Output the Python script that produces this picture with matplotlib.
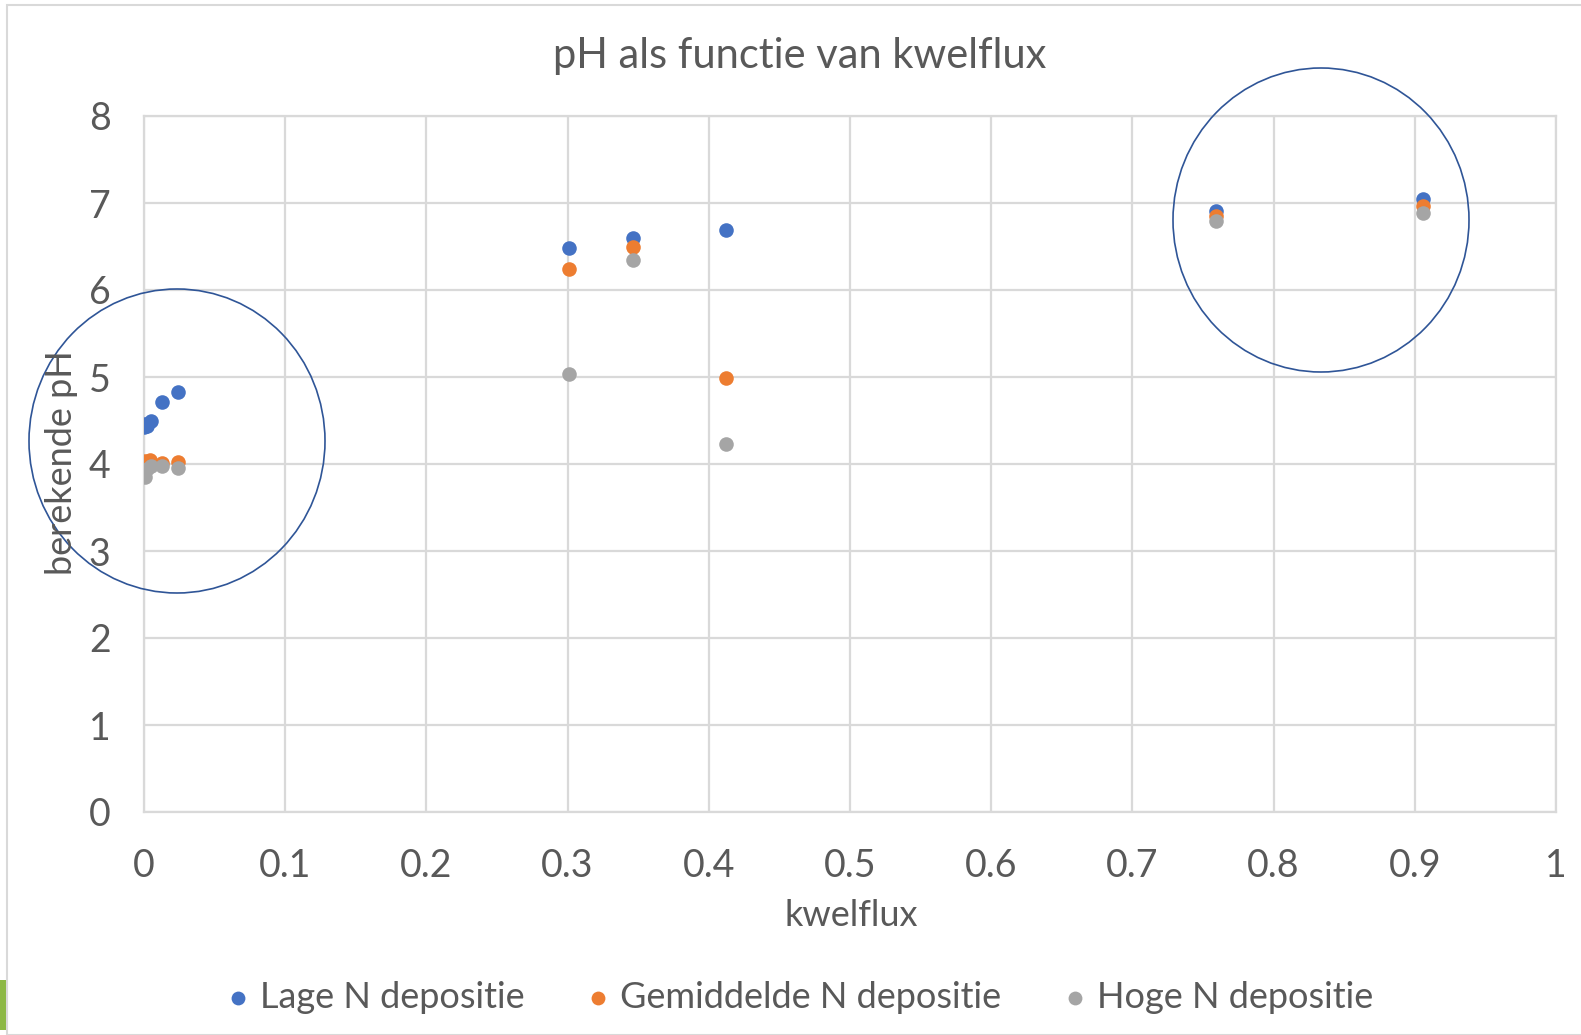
import matplotlib.pyplot as plt
from matplotlib.patches import Ellipse, Rectangle

# kwelflux waarden en berekende pH per scenario
lage_x = [0.0, 0.001, 0.002, 0.005, 0.013, 0.024, 0.301, 0.346, 0.412, 0.759, 0.906]
lage_y = [4.42, 4.46, 4.44, 4.50, 4.71, 4.83, 6.48, 6.60, 6.69, 6.91, 7.05]

gem_x = [0.0, 0.001, 0.004, 0.013, 0.024, 0.301, 0.346, 0.412, 0.759, 0.906]
gem_y = [4.02, 4.03, 4.05, 4.01, 4.02, 6.24, 6.49, 4.99, 6.85, 6.97]

hoog_x = [0.001, 0.0, 0.002, 0.005, 0.013, 0.024, 0.301, 0.346, 0.412, 0.759, 0.906]
hoog_y = [3.85, 3.91, 3.94, 3.98, 3.98, 3.95, 5.04, 6.35, 4.23, 6.79, 6.88]

labels = ["Lage N depositie", "Gemiddelde N depositie", "Hoge N depositie"]
colors = ["#4472C4", "#ED7D31", "#A5A5A5"]

plt.rcParams['font.family'] = ['Lato', 'DejaVu Sans']
txt = '#595959'
gridc = '#D9D9D9'

W, H = 1581, 1035
fig = plt.figure(figsize=(W/100, H/100), dpi=100)
ax = fig.add_axes([144/W, 1-812/H, (1556-144)/W, (812-116)/H])

ax.scatter(lage_x, lage_y, s=110, color=colors[0], label=labels[0], zorder=3, linewidths=0)
ax.scatter(gem_x, gem_y, s=110, color=colors[1], label=labels[1], zorder=3, linewidths=0)
ax.scatter(hoog_x, hoog_y, s=110, color=colors[2], label=labels[2], zorder=3, linewidths=0)

ax.set_xlim(0, 1)
ax.set_ylim(0, 8)
ax.set_xticks([i/10 for i in range(11)])
ax.set_xticklabels(['0', '0.1', '0.2', '0.3', '0.4', '0.5', '0.6', '0.7', '0.8', '0.9', '1'])
ax.set_yticks(range(9))
ax.grid(True, color=gridc, linewidth=1.6)
ax.set_axisbelow(True)
for s in ax.spines.values():
    s.set_color(gridc)
    s.set_linewidth(1.6)
ax.tick_params(length=0, labelsize=27, colors=txt)
ax.tick_params(axis='x', pad=26)
ax.tick_params(axis='y', pad=24)

fig.text(800/W, 1-56/H, "pH als functie van kwelflux", fontsize=30, color=txt,
         ha='center', va='center')
fig.text(851/W, 1-915/H, "kwelflux", fontsize=26, color=txt, ha='center', va='center')
fig.text(62/W, 1-463/H, "berekende pH", rotation=90, fontsize=26, color=txt,
         ha='center', va='center')

handles, labs = ax.get_legend_handles_labels()
fig.legend(handles, labs, loc='center', bbox_to_anchor=(800/W, 1-997/H), ncol=3,
           frameon=False, fontsize=26, labelcolor=txt, handlelength=0.6,
           handletextpad=0.3, columnspacing=1.75, markerscale=0.95)

# cirkels rond de clusters (in pixels van de figuur)
for cx, cy in [(177, 441), (1321, 220)]:
    e = Ellipse((cx/W, 1-cy/H), 296/W, 304/H, transform=fig.transFigure,
                fill=False, edgecolor='#2F5597', linewidth=1.2)
    fig.add_artist(e)

# kader van de grafiek
fig.add_artist(Rectangle((7/W, 0), 1.0, 1-5/H, transform=fig.transFigure,
                         fill=False, edgecolor=gridc, linewidth=1.5))
fig.add_artist(Rectangle((0, 5/H), 6/W, 50/H, transform=fig.transFigure,
                         color='#8DB846', linewidth=0))

fig.savefig("out.png", dpi=100, facecolor='white')
